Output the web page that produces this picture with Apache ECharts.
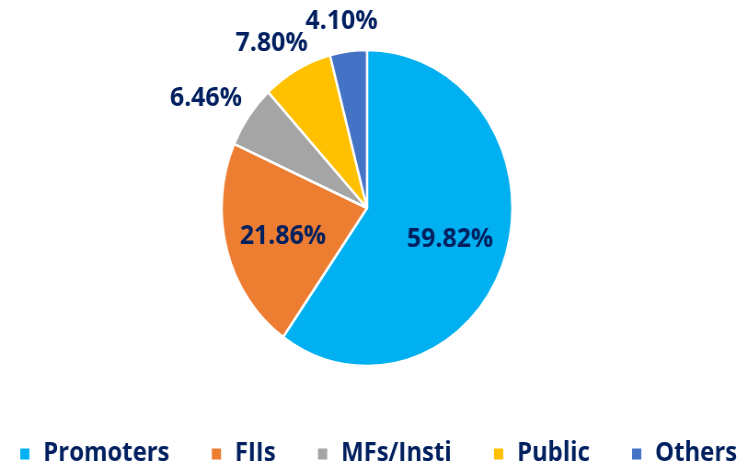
<!DOCTYPE html>
<html><head><meta charset="utf-8">
<script src="https://cdn.jsdelivr.net/npm/echarts@6/dist/echarts.min.js"></script>
<style>
html,body{margin:0;padding:0;overflow:hidden;background:#fff}
#wrap{width:741px;height:467px;overflow:hidden;}
#chart{width:805px;height:467px;transform:scaleX(0.92);transform-origin:0 0;}
</style>
</head><body><div id="wrap"><div id="chart"></div></div>
<script>
const categories = ['Promoters', 'FIIs', 'MFs/Insti', 'Public', 'Others'];
const shares = [59.82, 21.86, 6.46, 7.80, 4.10];
const colors = ['#00B0F0', '#ED7D31', '#A5A5A5', '#FFC000', '#4472C4'];

const SX = 0.92;
const CX = 367 / SX, CY = 208, R = 158;
const FONT = '"Open Sans", sans-serif';
const total = shares.reduce((a, b) => a + b, 0);
function midDir(i) {
  let before = 0;
  for (let k = 0; k < i; k++) before += shares[k];
  const a = (before + shares[i] / 2) / total * 2 * Math.PI;
  return [Math.sin(a), -Math.cos(a)];
}
const textColor = '#002060';
const chart = echarts.init(document.getElementById('chart'), null, {renderer: 'canvas'});
chart.setOption({
  animation: false,
  color: colors,
  legend: {
    data: categories,
    orient: 'horizontal',
    left: 15,
    top: 436,
    width: 800,
    icon: 'rect',
    itemWidth: 12,
    itemHeight: 13,
    itemGap: 44,
    textStyle: {fontFamily: FONT, fontWeight: 'bold', fontSize: 26, color: textColor, padding: [0, 0, 0, 9]}
  },
  series: [{
    type: 'pie',
    center: [CX, CY],
    radius: R,
    startAngle: 90,
    clockwise: true,
    avoidLabelOverlap: false,
    itemStyle: {borderColor: '#fff', borderWidth: 2.5},
    label: {
      show: true,
      position: 'inside',
      fontFamily: FONT,
      fontWeight: 'bold',
      fontSize: 27,
      color: textColor,
      formatter: p => shares[p.dataIndex].toFixed(2) + '%'
    },
    labelLine: {show: false},
    labelLayout: function (p) {
      const i = p.dataIndex;
      const d0 = midDir(i);
      const w = p.labelRect.width;
      let x, y;
      if (shares[i] > 15) {
        x = CX + d0[0] * R * 0.6;
        y = CY + d0[1] * R * 0.6 + 3;
      } else {
        const d = R + 18;
        x = CX + d0[0] * d + d0[0] * w / 2;
        y = CY + d0[1] * d + d0[1] * 12;
      }
      return {x: x, y: y, align: 'center', verticalAlign: 'middle'};
    },
    emphasis: {disabled: true},
    data: categories.map((c, i) => ({name: c, value: shares[i]}))
  }]
});
</script>
</body></html>
